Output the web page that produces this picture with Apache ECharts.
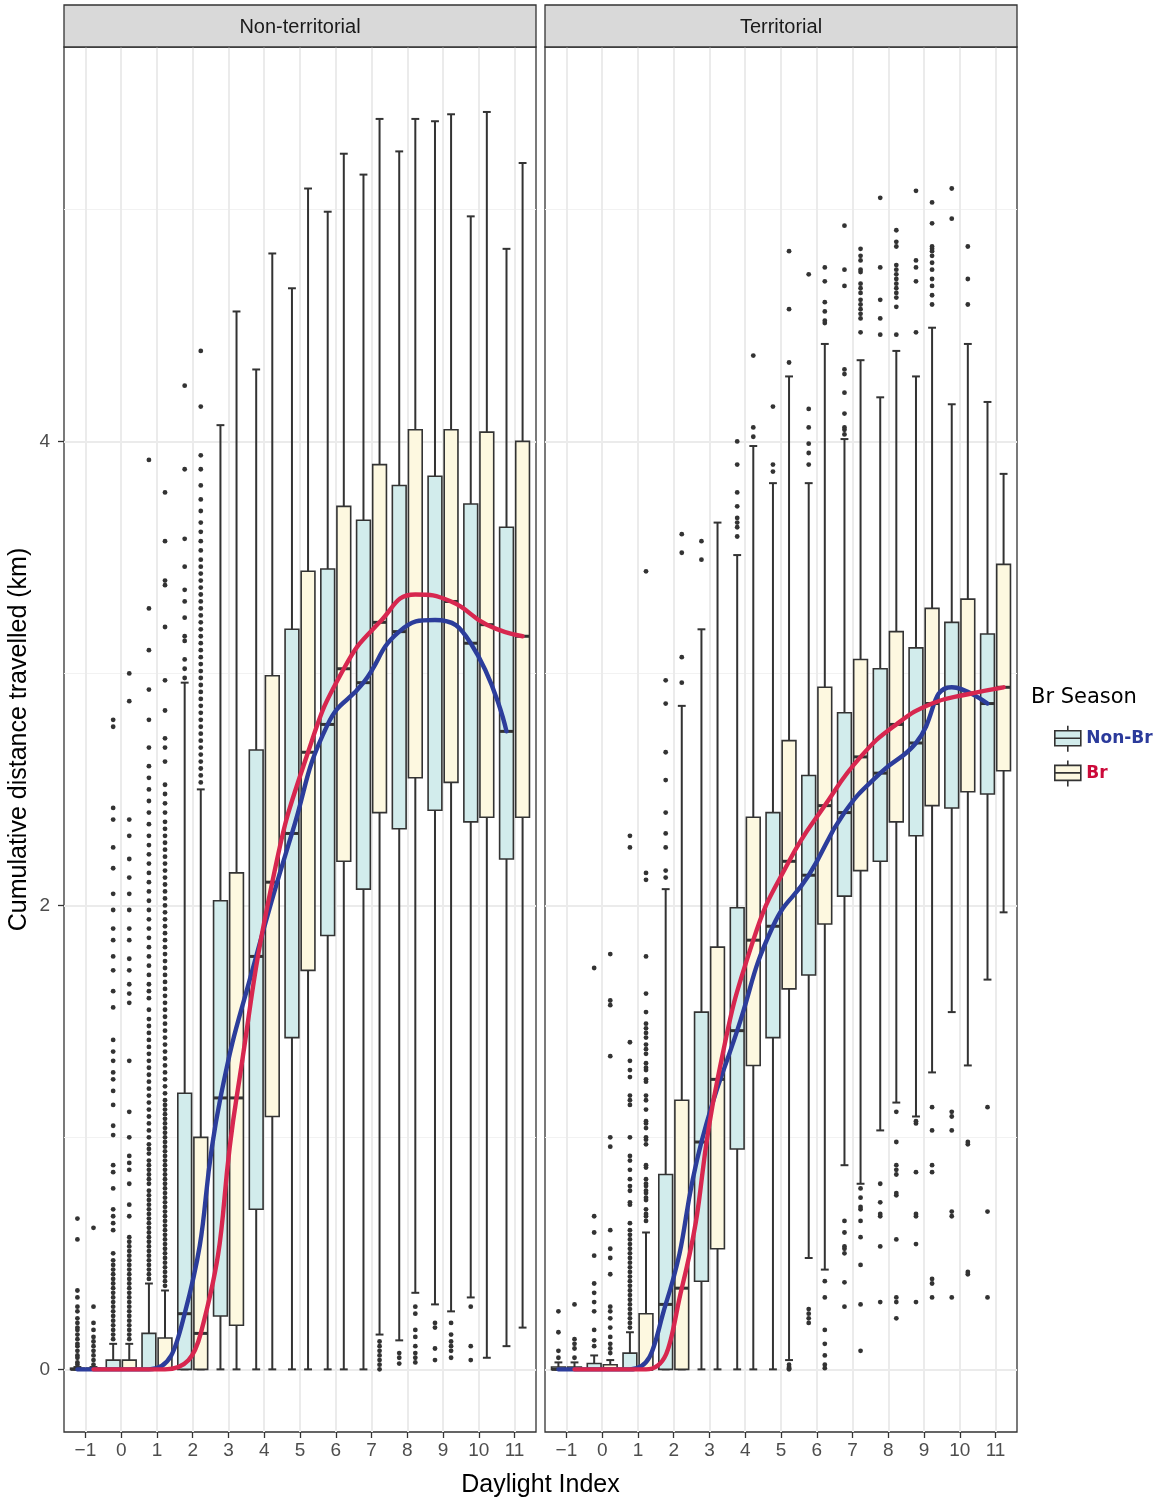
<!DOCTYPE html>
<html>
<head>
<meta charset="utf-8">
<title>Cumulative distance travelled by daylight index</title>
<script src="https://cdn.jsdelivr.net/npm/echarts@6/dist/echarts.min.js"></script>
<style>
  html, body { margin: 0; padding: 0; background: #ffffff; }
  #chart { width: 1161px; height: 1501px; }
</style>
</head>
<body>
<div id="chart"></div>
<script>
// ---- data -------------------------------------------------------------
const dayIndex = [-1, 0, 1, 2, 3, 4, 5, 6, 7, 8, 9, 10, 11];
const xTickValues = [-1, 0, 1, 2, 3, 4, 5, 6, 7, 8, 9, 10, 11];
const yTickValues = [0, 2, 4];
const yMinorValues = [1, 3, 5];
const panelTitles = ['Non-territorial', 'Territorial'];
const seasonNames = ['Non-Br', 'Br'];

// [lower whisker, Q1, median, Q3, upper whisker] per daylight index (km)
const nonTerrNonBr = [
  [0, 0, 0, 0.005, 0.01],
  [0, 0, 0, 0.04, 0.11],
  [0, 0, 0, 0.155, 0.37],
  [0, 0, 0.24, 1.19, 2.96],
  [0, 0.23, 1.17, 2.02, 4.07],
  [0, 0.69, 1.78, 2.67, 4.31],
  [0, 1.43, 2.31, 3.19, 4.66],
  [0, 1.87, 2.78, 3.45, 4.99],
  [0, 2.07, 2.96, 3.66, 5.15],
  [0.125, 2.33, 3.18, 3.81, 5.25],
  [0.28, 2.41, 3.23, 3.85, 5.38],
  [0.31, 2.36, 3.13, 3.73, 4.97],
  [0.10, 2.20, 2.75, 3.63, 4.83]
];
const nonTerrBr = [
  [0, 0, 0, 0.005, 0.01],
  [0, 0, 0, 0.04, 0.11],
  [0, 0, 0, 0.135, 0.34],
  [0, 0, 0.155, 1.0, 2.5],
  [0, 0.19, 1.17, 2.14, 4.56],
  [0, 1.09, 2.10, 2.99, 4.81],
  [0, 1.72, 2.66, 3.44, 5.09],
  [0, 2.19, 3.02, 3.72, 5.24],
  [0.15, 2.40, 3.22, 3.90, 5.39],
  [0.33, 2.55, 3.34, 4.05, 5.39],
  [0.25, 2.53, 3.31, 4.05, 5.41],
  [0.05, 2.38, 3.21, 4.04, 5.42],
  [0.18, 2.38, 3.16, 4.00, 5.20]
];
const terrNonBr = [
  [0, 0, 0, 0.01, 0.03],
  [0, 0, 0, 0.025, 0.06],
  [0, 0, 0, 0.07, 0.16],
  [0, 0, 0.28, 0.84, 2.07],
  [0, 0.38, 0.98, 1.54, 3.19],
  [0, 0.95, 1.46, 1.99, 3.51],
  [0, 1.43, 1.91, 2.40, 3.82],
  [0.48, 1.70, 2.13, 2.56, 3.82],
  [0.88, 2.04, 2.40, 2.83, 4.01],
  [1.03, 2.19, 2.57, 3.02, 4.19],
  [1.09, 2.30, 2.70, 3.11, 4.28],
  [1.54, 2.42, 2.94, 3.22, 4.16],
  [1.68, 2.48, 2.87, 3.17, 4.17]
];
const terrBr = [
  [0, 0, 0, 0.01, 0.03],
  [0, 0, 0, 0.02, 0.04],
  [0, 0, 0, 0.24, 0.59],
  [0, 0, 0.35, 1.16, 2.86],
  [0, 0.52, 1.25, 1.82, 3.65],
  [0, 1.31, 1.85, 2.38, 3.98],
  [0.04, 1.64, 2.19, 2.71, 4.28],
  [0.43, 1.92, 2.43, 2.94, 4.42],
  [0.80, 2.15, 2.64, 3.06, 4.35],
  [1.15, 2.36, 2.78, 3.18, 4.39],
  [1.28, 2.43, 2.87, 3.28, 4.49],
  [1.31, 2.49, 2.91, 3.32, 4.42],
  [1.97, 2.58, 2.94, 3.47, 3.86]
];

// observations beyond the whiskers, one list per daylight index (km)
const nonTerrNonBrOut = [
  [0.02,0.03,0.05,0.06,0.08,0.10,0.11,0.13,0.15,0.17,0.18,0.20,0.22,0.25,0.27,0.31,0.34,0.56,0.65],
  [0.13,0.15,0.17,0.19,0.21,0.23,0.25,0.27,0.29,0.31,0.33,0.35,0.37,0.39,0.41,0.43,0.45,0.47,0.50,0.60,0.63,0.66,0.69,0.78,0.85,0.88,1.01,1.05,1.14,1.20,1.25,1.28,1.33,1.37,1.42,1.56,1.63,1.72,1.78,1.85,1.90,1.98,2.05,2.16,2.25,2.37,2.42,2.77,2.80],
  [0.39,0.41,0.43,0.45,0.47,0.49,0.51,0.53,0.55,0.57,0.59,0.61,0.63,0.65,0.67,0.69,0.71,0.73,0.75,0.77,0.80,0.82,0.84,0.86,0.88,0.90,0.93,0.95,0.97,1.00,1.03,1.06,1.09,1.12,1.15,1.18,1.21,1.24,1.27,1.30,1.33,1.36,1.39,1.42,1.45,1.48,1.51,1.55,1.60,1.63,1.66,1.70,1.74,1.78,1.82,1.86,1.90,1.94,1.98,2.02,2.06,2.10,2.14,2.18,2.22,2.26,2.30,2.35,2.40,2.45,2.50,2.55,2.60,2.68,2.80,2.93,3.10,3.28,3.92],
  [2.98,3.02,3.06,3.14,3.16,3.24,3.31,3.36,3.46,3.58,3.88,4.24],
  [], [], [], [], [],
  [0.025,0.05,0.07],
  [0.04,0.09,0.18,0.20],
  [0.04,0.10,0.27],
  []
];
const nonTerrBrOut = [
  [0.02,0.04,0.06,0.08,0.10,0.12,0.14,0.17,0.20,0.27,0.61],
  [0.13,0.15,0.17,0.19,0.21,0.23,0.25,0.27,0.29,0.31,0.33,0.35,0.37,0.39,0.41,0.43,0.45,0.47,0.49,0.51,0.53,0.55,0.57,0.66,0.71,0.80,0.86,0.89,0.92,1.00,1.11,1.33,1.58,1.62,1.66,1.72,1.77,1.85,1.90,1.98,2.05,2.12,2.20,2.30,2.37,2.88,3.00],
  [0.36,0.38,0.40,0.42,0.44,0.46,0.48,0.50,0.52,0.54,0.56,0.58,0.60,0.62,0.64,0.66,0.68,0.70,0.72,0.74,0.76,0.78,0.80,0.82,0.84,0.86,0.88,0.90,0.92,0.94,0.96,0.98,1.00,1.02,1.04,1.06,1.08,1.10,1.12,1.14,1.16,1.19,1.22,1.25,1.28,1.31,1.34,1.37,1.40,1.43,1.46,1.49,1.52,1.55,1.58,1.61,1.64,1.67,1.70,1.73,1.76,1.79,1.82,1.85,1.88,1.91,1.94,1.97,2.00,2.03,2.06,2.09,2.12,2.15,2.18,2.21,2.24,2.27,2.30,2.33,2.36,2.40,2.44,2.48,2.52,2.62,2.68,2.72,2.84,2.97,3.20,3.38,3.40,3.57,3.78],
  [2.53,2.56,2.59,2.62,2.65,2.68,2.71,2.74,2.77,2.80,2.83,2.86,2.89,2.92,2.95,2.98,3.01,3.04,3.07,3.10,3.13,3.16,3.19,3.22,3.25,3.28,3.31,3.34,3.37,3.40,3.43,3.46,3.49,3.53,3.57,3.61,3.65,3.70,3.75,3.81,3.88,3.94,4.15,4.39],
  [], [], [], [],
  [0,0.02,0.04,0.06,0.08,0.10,0.12],
  [0.03,0.05,0.07,0.10,0.14,0.17,0.24,0.27],
  [0.05,0.08,0.10,0.12,0.15,0.20],
  [],
  []
];
const terrNonBrOut = [
  [0.05,0.08,0.16,0.25],
  [0.10,0.125,0.17,0.25,0.29,0.33,0.37,0.49,0.59,0.66,1.73],
  [0.18,0.20,0.22,0.24,0.26,0.28,0.30,0.32,0.34,0.36,0.38,0.40,0.42,0.44,0.46,0.48,0.50,0.52,0.54,0.56,0.58,0.60,0.63,0.71,0.72,0.77,0.79,0.82,0.86,0.90,0.92,1.00,1.14,1.16,1.18,1.26,1.29,1.33,1.41,2.25,2.30],
  [2.12,2.15,2.25,2.31,2.40,2.54,2.66,2.87,2.97],
  [3.49,3.57],
  [3.59,3.63,3.65,3.67,3.72,3.78,3.90,4.00],
  [3.87,3.90,4.15],
  [0.20,0.22,0.24,0.26,3.90,3.95,3.99,4.06,4.14,4.72],
  [0.27,0.375,0.50,0.52,0.53,0.59,0.64,4.03,4.05,4.06,4.12,4.21,4.29,4.31,4.67,4.74,4.93],
  [0.29,0.53,0.66,0.67,0.72,0.80,4.46,4.53,4.61,4.75,5.05],
  [0.29,0.54,0.66,0.67,0.85,1.06,1.07,4.47,4.69,4.75,4.78,5.08],
  [0.31,0.66,0.68,1.03,1.09,1.11,4.96,5.09],
  [0.31,0.68,1.13]
];
const terrBrOut = [
  [0.05,0.09,0.11,0.13,0.28],
  [0.07,0.09,0.11,0.14,0.18,0.22,0.25,0.27,0.41,0.48,0.52,0.60,0.96,1.00,1.35,1.57,1.59,1.79],
  [0.64,0.66,0.67,0.69,0.73,0.74,0.76,0.77,0.79,0.80,0.82,0.87,0.88,0.97,0.99,1.00,1.04,1.06,1.07,1.12,1.16,1.18,1.24,1.25,1.29,1.30,1.32,1.36,1.38,1.40,1.43,1.45,1.47,1.49,1.54,1.62,1.78,2.11,2.14,3.44],
  [2.96,3.07,3.52,3.60],
  [],
  [4.02,4.06,4.37],
  [0,0.005,0.01,0.02,4.34,4.57,4.82],
  [0.005,0.02,0.06,0.11,0.17,0.31,0.38,4.51,4.52,4.56,4.60,4.69,4.75],
  [0.08,0.28,0.45,0.57,0.64,0.69,0.70,0.74,0.78,4.47,4.53,4.55,4.57,4.59,4.61,4.64,4.66,4.68,4.73,4.74,4.78,4.80,4.83],
  [0.22,0.29,0.31,0.56,0.75,0.76,0.84,0.86,0.88,0.98,1.11,4.46,4.58,4.62,4.64,4.66,4.68,4.70,4.72,4.74,4.76,4.84,4.86,4.91],
  [0.31,0.37,0.39,0.85,0.88,1.03,1.13,4.59,4.63,4.67,4.70,4.74,4.77,4.80,4.82,4.83,4.84,4.94,5.03],
  [0.41,0.42,0.97,0.98,4.59,4.70,4.84],
  []
];

// ---- styling ----------------------------------------------------------
const FONT = 'Liberation Sans, Arial, sans-serif';
const LEGEND_FONT = 'DejaVu Sans, Verdana, sans-serif';
const INK = '#333333';
const NONBR_FILL = '#d2ecec';
const BR_FILL = '#fdf8e0';
const NONBR_LINE = '#2c3d9b';
const BR_LINE = '#d7274f';
const DODGE = 0.225;      // half distance between the two seasons' boxes
const BOX_W = 0.385;      // box width in daylight-index units
const CAP_W = 0.22;       // whisker cap width
const GRID_TOP = 47, GRID_H = 1385, GRID_W = 472;
const GRID_LEFT = [64, 545];
const STRIP_TOP = 5;

// boxplot glyph drawn through the axes of the series' grid
function boxRenderer(offset) {
  return function (params, api) {
    const x = api.value(0) + offset;
    const low = api.coord([x, api.value(1)]);
    const q1 = api.coord([x, api.value(2)]);
    const med = api.coord([x, api.value(3)]);
    const q3 = api.coord([x, api.value(4)]);
    const high = api.coord([x, api.value(5)]);
    const half = api.size([BOX_W, 0])[0] / 2;
    const cap = api.size([CAP_W, 0])[0] / 2;
    const whisker = { stroke: INK, lineWidth: 2 };
    return {
      type: 'group',
      children: [
        { type: 'line', shape: { x1: q3[0], y1: q3[1], x2: high[0], y2: high[1] }, style: whisker },
        { type: 'line', shape: { x1: high[0] - cap, y1: high[1], x2: high[0] + cap, y2: high[1] }, style: whisker },
        { type: 'line', shape: { x1: q1[0], y1: q1[1], x2: low[0], y2: low[1] }, style: whisker },
        { type: 'line', shape: { x1: low[0] - cap, y1: low[1], x2: low[0] + cap, y2: low[1] }, style: whisker },
        { type: 'rect', shape: { x: q3[0] - half, y: q3[1], width: half * 2, height: Math.max(q1[1] - q3[1], 0.5) },
          style: { fill: api.visual('color'), stroke: INK, lineWidth: 1.6 } },
        { type: 'line', shape: { x1: med[0] - half, y1: med[1], x2: med[0] + half, y2: med[1] },
          style: { stroke: INK, lineWidth: 3 } }
      ]
    };
  };
}

const fmtTick = v => (v < 0 ? '\u2212' + (-v) : String(v));

const panels = [
  { nonBr: nonTerrNonBr, br: nonTerrBr, nonBrOut: nonTerrNonBrOut, brOut: nonTerrBrOut },
  { nonBr: terrNonBr, br: terrBr, nonBrOut: terrNonBrOut, brOut: terrBrOut }
];

const series = [];
panels.forEach((p, k) => {
  const axes = { xAxisIndex: k, yAxisIndex: 2 * k };
  const groups = [
    { name: seasonNames[0], stats: p.nonBr, outs: p.nonBrOut, off: -DODGE, fill: NONBR_FILL, line: NONBR_LINE },
    { name: seasonNames[1], stats: p.br, outs: p.brOut, off: DODGE, fill: BR_FILL, line: BR_LINE }
  ];
  groups.forEach(g => {
    series.push(Object.assign({
      type: 'custom',
      name: g.name,
      renderItem: boxRenderer(g.off),
      itemStyle: { color: g.fill, borderColor: INK },
      encode: { x: 0, y: [1, 2, 3, 4, 5] },
      data: g.stats.map((s, i) => [dayIndex[i]].concat(s)),
      z: 2,
      silent: true
    }, axes));
    const pts = [];
    g.outs.forEach((vals, i) => vals.forEach(v => pts.push([dayIndex[i] + g.off, v])));
    series.push(Object.assign({
      type: 'scatter',
      name: g.name,
      data: pts,
      symbol: 'circle',
      symbolSize: 4.8,
      itemStyle: { color: INK, opacity: 1 },
      z: 3,
      silent: true
    }, axes));
  });
  // smoothed median trend of each season, drawn over the boxes
  groups.forEach(g => {
    series.push(Object.assign({
      type: 'line',
      name: g.name,
      data: g.stats.map((s, i) => [dayIndex[i] + g.off, s[2]]),
      smooth: 0.5,
      showSymbol: false,
      symbol: 'none',
      lineStyle: { color: g.line, width: 4.4, cap: 'round', join: 'round' },
      itemStyle: { color: g.line },
      z: 5,
      silent: true
    }, axes));
  });
});

const xAxis = [0, 1].map(k => ({
  type: 'value',
  gridIndex: k,
  min: -1.6,
  max: 11.6,
  position: 'bottom',
  axisLine: { show: false, onZero: false },
  axisTick: { show: true, customValues: xTickValues, length: 6, lineStyle: { color: INK, width: 1.3 } },
  axisLabel: { customValues: xTickValues, formatter: fmtTick, color: '#4d4d4d', fontSize: 19, fontFamily: FONT, margin: 9 },
  splitLine: { show: true, lineStyle: { color: '#ebebeb', width: 2 } }
}));

const yAxis = [];
[0, 1].forEach(k => {
  yAxis.push({
    type: 'value',
    gridIndex: k,
    min: -0.27,
    max: 5.70,
    position: 'left',
    axisLine: { show: false, onZero: false },
    axisTick: { show: k === 0, customValues: yTickValues, length: 6, lineStyle: { color: INK, width: 1.3 } },
    axisLabel: { show: k === 0, customValues: yTickValues, color: '#4d4d4d', fontSize: 19, fontFamily: FONT, margin: 14 },
    splitLine: { show: true, lineStyle: { color: '#ebebeb', width: 2 } },
    name: k === 0 ? 'Cumulative distance travelled (km)' : '',
    nameLocation: 'middle',
    nameRotate: 90,
    nameGap: 32,
    nameTextStyle: { color: '#000', fontSize: 25, fontFamily: FONT }
  });
  yAxis.push({
    type: 'value',
    gridIndex: k,
    min: -0.27,
    max: 5.70,
    position: 'right',
    axisLine: { show: false, onZero: false },
    axisTick: { show: false, customValues: yMinorValues },
    axisLabel: { show: false, customValues: yMinorValues },
    splitLine: { show: true, lineStyle: { color: '#f2f2f2', width: 1.2 } }
  });
});

const grid = GRID_LEFT.map(left => ({
  left: left,
  top: GRID_TOP,
  width: GRID_W,
  height: GRID_H,
  show: true,
  backgroundColor: '#ffffff',
  borderColor: INK,
  borderWidth: 1.3,
  containLabel: false
}));

const graphic = [];
panelTitles.forEach((title, k) => {
  graphic.push({
    type: 'rect',
    shape: { x: GRID_LEFT[k], y: STRIP_TOP, width: GRID_W, height: GRID_TOP - STRIP_TOP },
    style: { fill: '#d9d9d9', stroke: INK, lineWidth: 1.3 },
    z: 10
  });
  graphic.push({
    type: 'text',
    x: GRID_LEFT[k] + GRID_W / 2,
    y: (STRIP_TOP + GRID_TOP) / 2 + 1,
    style: { text: title, fill: '#1a1a1a', fontSize: 20, fontFamily: FONT, align: 'center', verticalAlign: 'middle' },
    z: 11
  });
});
graphic.push({
  type: 'text',
  x: (GRID_LEFT[0] + GRID_LEFT[1] + GRID_W) / 2,
  y: 1485,
  style: { text: 'Daylight Index', fill: '#000', fontSize: 25, fontFamily: FONT, align: 'center', verticalAlign: 'middle' },
  z: 11
});

const option = {
  animation: false,
  backgroundColor: '#ffffff',
  textStyle: { fontFamily: FONT },
  title: {
    text: 'Br Season',
    left: 1031,
    top: 687,
    padding: 0,
    textStyle: { fontFamily: LEGEND_FONT, fontSize: 21, fontWeight: 'normal', color: '#000' }
  },
  legend: {
    data: [
      { name: seasonNames[0], textStyle: { color: '#2b3a9b' } },
      { name: seasonNames[1], textStyle: { color: '#cc0a3a' } }
    ],
    orient: 'vertical',
    left: 1054,
    top: 725,
    padding: 0,
    itemWidth: 27,
    itemHeight: 26,
    itemGap: 7,
    icon: 'path://M13,0V5M0,5H26V20H0ZM0,12.5H26M13,20V26',
    itemStyle: { borderColor: INK, borderWidth: 1.6 },
    textStyle: { fontFamily: LEGEND_FONT, fontSize: 17, fontWeight: 'bold' }
  },
  grid: grid,
  xAxis: xAxis,
  yAxis: yAxis,
  series: series,
  graphic: graphic
};

const chart = echarts.init(document.getElementById('chart'), null, { renderer: 'canvas' });
chart.setOption(option);
</script>
</body>
</html>
